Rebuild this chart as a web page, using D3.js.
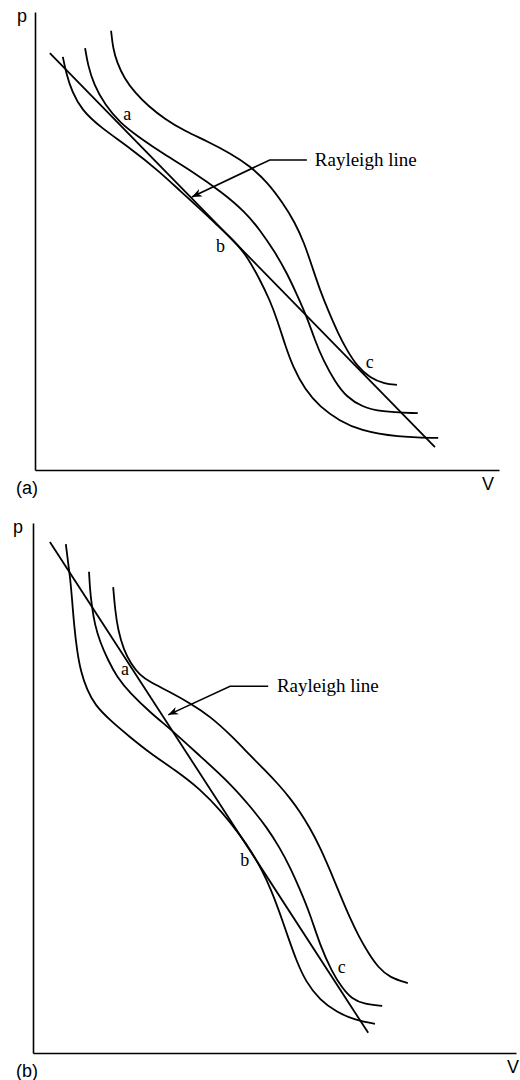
<!DOCTYPE html>
<html>
<head>
<meta charset="utf-8">
<script src="https://cdn.jsdelivr.net/npm/d3@7"></script>
<style>
  body { margin: 0; background: #fff; }
</style>
</head>
<body>
<div id="chart"></div>
<script>
const width = 520,
    height = 1080;

const lineA = [[0.32, 9.10], [8.62, 0.50]];
const curveA1 = [[0.60, 9.02], [0.67, 8.67], [0.80, 8.25], [1.01, 7.86], [1.40, 7.49], [2.05, 7.03],
    [2.69, 6.51], [3.13, 6.09], [3.56, 5.70], [3.88, 5.39], [4.20, 5.09], [4.53, 4.74], [4.85, 4.15],
    [5.06, 3.71], [5.22, 3.28], [5.39, 2.73], [5.56, 2.25], [5.82, 1.75], [6.14, 1.38], [6.57, 1.07],
    [7.00, 0.87], [7.80, 0.72], [8.69, 0.70]];
const curveA2 = [[1.08, 9.21], [1.14, 8.84], [1.27, 8.41], [1.51, 7.97], [1.83, 7.58], [2.26, 7.25],
    [2.80, 6.88], [3.34, 6.55], [4.05, 6.05], [4.53, 5.63], [4.85, 5.24], [5.17, 4.76], [5.43, 4.30],
    [5.65, 3.82], [5.86, 3.34], [6.03, 2.84], [6.21, 2.40], [6.47, 1.92], [6.72, 1.59], [7.05, 1.38],
    [7.44, 1.27], [8.25, 1.24]];
const curveA3 = [[1.64, 9.59], [1.68, 9.21], [1.77, 8.89], [1.92, 8.56], [2.16, 8.23], [2.44, 7.95],
    [2.80, 7.66], [3.23, 7.40], [3.71, 7.18], [4.20, 6.92], [4.63, 6.64], [5.02, 6.27], [5.34, 5.83],
    [5.60, 5.41], [5.80, 4.96], [5.97, 4.45], [6.14, 3.93], [6.34, 3.43], [6.53, 2.99], [6.72, 2.62],
    [6.94, 2.27], [7.22, 2.01], [7.54, 1.88], [7.80, 1.86]];

const lineB = [[0.35, 9.64], [6.94, 0.38]];
const curveB1 = [[0.68, 9.60], [0.72, 9.30], [0.77, 8.96], [0.81, 8.55], [0.85, 8.08], [0.91, 7.60],
    [0.99, 7.19], [1.12, 6.85], [1.28, 6.57], [1.59, 6.28], [2.01, 5.96], [2.42, 5.66], [2.94, 5.34],
    [3.46, 4.98], [3.91, 4.55], [4.29, 4.11], [4.53, 3.79], [4.74, 3.45], [4.93, 3.08], [5.11, 2.64],
    [5.28, 2.19], [5.45, 1.75], [5.65, 1.34], [5.94, 1.00], [6.29, 0.77], [6.67, 0.62], [7.08, 0.55]];
const curveB2 = [[1.16, 9.08], [1.18, 8.74], [1.22, 8.42], [1.28, 8.08], [1.39, 7.75], [1.55, 7.42],
    [1.74, 7.09], [2.01, 6.79], [2.42, 6.43], [2.94, 6.04], [3.46, 5.60], [4.08, 5.09], [4.49, 4.66],
    [4.84, 4.26], [5.11, 3.87], [5.32, 3.51], [5.53, 3.08], [5.73, 2.64], [5.94, 2.04], [6.19, 1.53],
    [6.40, 1.23], [6.60, 1.02], [6.87, 0.92], [7.23, 0.89]];
const curveB3 = [[1.66, 8.79], [1.70, 8.36], [1.76, 7.98], [1.88, 7.60], [2.03, 7.34], [2.21, 7.13],
    [2.42, 7.00], [2.84, 6.81], [3.25, 6.60], [3.66, 6.36], [4.14, 5.96], [4.49, 5.62], [4.80, 5.34],
    [5.11, 5.04], [5.32, 4.81], [5.53, 4.55], [5.73, 4.25], [5.94, 3.89], [6.15, 3.45], [6.36, 2.98],
    [6.56, 2.55], [6.75, 2.19], [6.94, 1.89], [7.14, 1.62], [7.39, 1.42], [7.76, 1.32]];

// point labels and the "Rayleigh line" pointer, same units
const pointLabels = ["a", "b", "c"];
const pointsA = [[1.90, 7.64], [3.90, 4.76], [7.13, 2.23]];
const pointsB = [[1.82, 7.13], [4.29, 3.53], [6.31, 1.51]];
const pointerA = [[5.86, 6.77], [5.06, 6.77], [3.38, 5.96]];
const pointerB = [[4.87, 6.92], [4.08, 6.92], [2.80, 6.38]];
const pointerText = "Rayleigh line";
const axisNames = ["V", "p"];
const panelNames = ["(a)", "(b)"];

const svg = d3.select("#chart")
    .append("svg")
    .attr("width", width)
    .attr("height", height);

svg.append("defs").append("marker")
    .attr("id", "arrow")
    .attr("viewBox", "0 0 10 8")
    .attr("refX", 10)
    .attr("refY", 4)
    .attr("markerUnits", "userSpaceOnUse")
    .attr("markerWidth", 10)
    .attr("markerHeight", 8)
    .attr("orient", "auto")
    .append("path")
    .attr("d", "M0,0 L10,4 L0,8 L3,4 z")
    .attr("fill", "#000");

const panels = [
    { name: panelNames[0], xr: [35, 499], yr: [470, 12], line: lineA, curves: [curveA1, curveA2, curveA3],
      points: pointsA, pointer: pointerA, textAt: [6.03, 6.64], vDx: -17, pDx: -18 },
    { name: panelNames[1], xr: [33, 516], yr: [1053, 523], line: lineB, curves: [curveB1, curveB2, curveB3],
      points: pointsB, pointer: pointerB, textAt: [5.05, 6.81], vDx: -9, pDx: -20 }
];

panels.forEach(p => {
    let x = d3.scaleLinear().domain([0, 10]).range(p.xr);
    let y = d3.scaleLinear().domain([0, 10]).range(p.yr);

    const g = svg.append("g");

    // bare axes, no ticks
    g.append("g")
        .attr("transform", "translate(0," + p.yr[0] + ")")
        .call(d3.axisBottom(x).tickValues([]).tickSizeOuter(0))
        .select(".domain").attr("stroke-width", 1.6);
    g.append("g")
        .attr("transform", "translate(" + p.xr[0] + ",0)")
        .call(d3.axisLeft(y).tickValues([]).tickSizeOuter(0))
        .select(".domain").attr("stroke-width", 1.6);

    // basis smooths out the hand-read wobble
    const smooth = d3.line()
        .x(d => x(d[0]))
        .y(d => y(d[1]))
        .curve(d3.curveBasis);

    g.selectAll(".hug")
        .data(p.curves)
        .enter()
        .append("path")
        .attr("class", "hug")
        .attr("d", smooth)
        .attr("fill", "none")
        .attr("stroke", "#000")
        .attr("stroke-width", 1.8);

    g.append("path")
        .datum(p.line)
        .attr("d", d3.line().x(d => x(d[0])).y(d => y(d[1])))
        .attr("stroke", "#000")
        .attr("stroke-width", 1.8);

    g.append("path")
        .datum(p.pointer)
        .attr("d", d3.line().x(d => x(d[0])).y(d => y(d[1])))
        .attr("fill", "none")
        .attr("stroke", "#000")
        .attr("stroke-width", 1.6)
        .attr("marker-end", "url(#arrow)");

    g.append("text")
        .attr("x", x(p.textAt[0]))
        .attr("y", y(p.textAt[1]))
        .attr("font-family", "Liberation Serif, Times New Roman, serif")
        .attr("font-size", 19)
        .text(pointerText);

    g.selectAll(".pt")
        .data(p.points)
        .enter()
        .append("text")
        .attr("class", "pt")
        .attr("x", d => x(d[0]))
        .attr("y", d => y(d[1]))
        .attr("font-family", "Liberation Serif, Times New Roman, serif")
        .attr("font-size", 18)
        .text((d, i) => pointLabels[i]);

    const sans = "Liberation Sans, Arial, sans-serif";
    g.append("text")
        .attr("x", p.xr[0] + p.pDx)
        .attr("y", p.yr[1] + 10)
        .attr("font-family", sans)
        .attr("font-size", 18)
        .text(axisNames[1]);
    g.append("text")
        .attr("x", p.xr[1] + p.vDx)
        .attr("y", p.yr[0] + 20)
        .attr("font-family", sans)
        .attr("font-size", 18)
        .text(axisNames[0]);
    g.append("text")
        .attr("x", 16)
        .attr("y", p.yr[0] + 24)
        .attr("font-family", sans)
        .attr("font-size", 18)
        .text(p.name);
});
</script>
</body>
</html>
